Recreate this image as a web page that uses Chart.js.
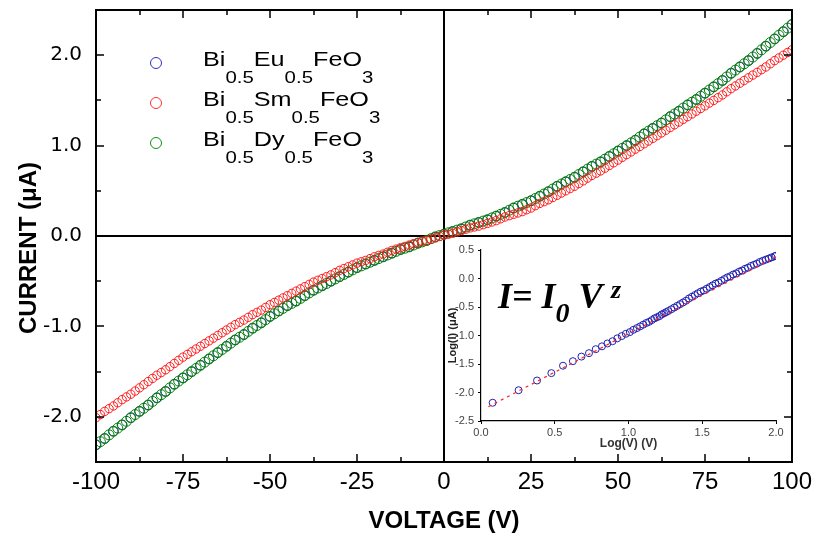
<!DOCTYPE html>
<html>
<head>
<meta charset="utf-8">
<title>I-V curves</title>
<script src="https://cdn.jsdelivr.net/npm/chart.js@4.4.1/dist/chart.umd.min.js"></script>
<style>
  html, body { margin: 0; padding: 0; background: #fff; }
  #wrap { position: relative; width: 816px; height: 539px; overflow: hidden; }
  #main { position: absolute; left: 0; top: 0; }
  #inset { position: absolute; left: 446px; top: 238px; }
  .legend-row { position: absolute; left: 0; width: 400px; height: 20px; line-height: 20px; }
  .legend-row .dot { position: absolute; left: 150px; top: 8px; width: 10px; height: 10px; border: 1px solid; border-radius: 50%; }
  .legend-row .txt {
    position: absolute; left: 203px; top: 0; white-space: nowrap;
    font-family: "Liberation Sans", Arial, sans-serif; font-size: 21px; color: #000;
    transform: scaleX(1.2); transform-origin: 0 0;
  }
  .legend-row sub { font-size: 17px; vertical-align: baseline; position: relative; top: 17px; }
  .formula {
    position: absolute; left: 498px; top: 278px; line-height: 36px; white-space: nowrap;
    font-family: "Liberation Serif", "Times New Roman", serif; font-weight: bold; font-style: italic;
    font-size: 36px; color: #000;
  }
  .formula sub { font-size: 28px; vertical-align: baseline; position: relative; top: 14px; }
  .formula sup { font-size: 26px; vertical-align: baseline; position: relative; top: -10px; }
</style>
</head>
<body>
<div id="wrap">
  <canvas id="main" width="816" height="539"></canvas>
  <canvas id="inset" width="344" height="222"></canvas>

  <div class="legend-row" style="top:49px"><span class="dot" style="border-color:#3030c8"></span><span class="txt">Bi<sub>0.5</sub>Eu<sub>0.5</sub>FeO<sub>3</sub></span></div>
  <div class="legend-row" style="top:89px"><span class="dot" style="border-color:#ff3030"></span><span class="txt">Bi<sub>0.5</sub>Sm<sub>0.5</sub>FeO<sub>3</sub></span></div>
  <div class="legend-row" style="top:129px"><span class="dot" style="border-color:#109010"></span><span class="txt">Bi<sub>0.5</sub>Dy<sub>0.5</sub>FeO<sub>3</sub></span></div>

  <div class="formula">I= I<sub>0</sub> V <sup>z</sup></div>
</div>

<script>
// sweep voltage (V), 1.25 V steps
const voltage = [
  -100, -98.75, -97.5, -96.25, -95, -93.75, -92.5, -91.25,
  -90, -88.75, -87.5, -86.25, -85, -83.75, -82.5, -81.25,
  -80, -78.75, -77.5, -76.25, -75, -73.75, -72.5, -71.25,
  -70, -68.75, -67.5, -66.25, -65, -63.75, -62.5, -61.25,
  -60, -58.75, -57.5, -56.25, -55, -53.75, -52.5, -51.25,
  -50, -48.75, -47.5, -46.25, -45, -43.75, -42.5, -41.25,
  -40, -38.75, -37.5, -36.25, -35, -33.75, -32.5, -31.25,
  -30, -28.75, -27.5, -26.25, -25, -23.75, -22.5, -21.25,
  -20, -18.75, -17.5, -16.25, -15, -13.75, -12.5, -11.25,
  -10, -8.75, -7.5, -6.25, -5, -3.75, -2.5, -1.25,
  0, 1.25, 2.5, 3.75, 5, 6.25, 7.5, 8.75,
  10, 11.25, 12.5, 13.75, 15, 16.25, 17.5, 18.75,
  20, 21.25, 22.5, 23.75, 25, 26.25, 27.5, 28.75,
  30, 31.25, 32.5, 33.75, 35, 36.25, 37.5, 38.75,
  40, 41.25, 42.5, 43.75, 45, 46.25, 47.5, 48.75,
  50, 51.25, 52.5, 53.75, 55, 56.25, 57.5, 58.75,
  60, 61.25, 62.5, 63.75, 65, 66.25, 67.5, 68.75,
  70, 71.25, 72.5, 73.75, 75, 76.25, 77.5, 78.75,
  80, 81.25, 82.5, 83.75, 85, 86.25, 87.5, 88.75,
  90, 91.25, 92.5, 93.75, 95, 96.25, 97.5, 98.75,
  100
];

// current (uA), Sm-doped film
const smCurrent = [
  -2.01, -1.975, -1.94, -1.91, -1.88, -1.845, -1.81, -1.78,
  -1.75, -1.715, -1.68, -1.645, -1.61, -1.575, -1.54, -1.51,
  -1.48, -1.445, -1.41, -1.375, -1.34, -1.31, -1.28, -1.25,
  -1.22, -1.19, -1.16, -1.13, -1.10, -1.07, -1.04, -1.01,
  -0.98, -0.955, -0.93, -0.90, -0.87, -0.845, -0.82, -0.79,
  -0.76, -0.735, -0.71, -0.685, -0.66, -0.635, -0.61, -0.585,
  -0.56, -0.535, -0.51, -0.49, -0.47, -0.45, -0.43, -0.405,
  -0.38, -0.36, -0.34, -0.32, -0.30, -0.285, -0.27, -0.25,
  -0.23, -0.215, -0.20, -0.18, -0.16, -0.145, -0.13, -0.115,
  -0.10, -0.085, -0.07, -0.06, -0.05, -0.035, -0.02, -0.005,
  0.01, 0.02, 0.03, 0.045, 0.06, 0.075, 0.09, 0.10,
  0.11, 0.125, 0.14, 0.155, 0.17, 0.19, 0.21, 0.225,
  0.24, 0.255, 0.27, 0.29, 0.31, 0.335, 0.36, 0.38,
  0.40, 0.425, 0.45, 0.475, 0.50, 0.525, 0.55, 0.58,
  0.61, 0.64, 0.67, 0.695, 0.72, 0.75, 0.78, 0.81,
  0.84, 0.87, 0.90, 0.93, 0.96, 0.99, 1.02, 1.05,
  1.08, 1.11, 1.14, 1.17, 1.20, 1.23, 1.26, 1.29,
  1.32, 1.35, 1.38, 1.41, 1.44, 1.47, 1.50, 1.53,
  1.56, 1.595, 1.63, 1.66, 1.69, 1.72, 1.75, 1.78,
  1.81, 1.84, 1.87, 1.905, 1.94, 1.97, 2.00, 2.03,
  2.06
];

// current (uA), Dy-doped film
const dyCurrent = [
  -2.31, -2.275, -2.24, -2.20, -2.16, -2.125, -2.09, -2.05,
  -2.01, -1.975, -1.94, -1.905, -1.87, -1.83, -1.79, -1.755,
  -1.72, -1.68, -1.64, -1.605, -1.57, -1.535, -1.50, -1.465,
  -1.43, -1.395, -1.36, -1.325, -1.29, -1.255, -1.22, -1.185,
  -1.15, -1.12, -1.09, -1.055, -1.02, -0.99, -0.96, -0.925,
  -0.89, -0.86, -0.83, -0.80, -0.77, -0.745, -0.72, -0.69,
  -0.66, -0.63, -0.60, -0.575, -0.55, -0.525, -0.50, -0.475,
  -0.45, -0.425, -0.40, -0.375, -0.35, -0.33, -0.31, -0.29,
  -0.27, -0.25, -0.23, -0.21, -0.19, -0.17, -0.15, -0.135,
  -0.12, -0.10, -0.08, -0.065, -0.05, -0.03, -0.01, 0.005,
  0.02, 0.035, 0.05, 0.065, 0.08, 0.10, 0.12, 0.135,
  0.15, 0.165, 0.18, 0.20, 0.22, 0.24, 0.26, 0.285,
  0.31, 0.33, 0.35, 0.37, 0.39, 0.415, 0.44, 0.465,
  0.49, 0.52, 0.55, 0.575, 0.60, 0.625, 0.65, 0.68,
  0.71, 0.74, 0.77, 0.795, 0.82, 0.85, 0.88, 0.91,
  0.94, 0.97, 1.00, 1.03, 1.06, 1.095, 1.13, 1.16,
  1.19, 1.22, 1.25, 1.285, 1.32, 1.35, 1.38, 1.415,
  1.45, 1.48, 1.51, 1.545, 1.58, 1.615, 1.65, 1.685,
  1.72, 1.76, 1.80, 1.835, 1.87, 1.905, 1.94, 1.98,
  2.02, 2.06, 2.10, 2.14, 2.18, 2.22, 2.26, 2.30,
  2.34
];

// Eu-doped film, 2.5 V steps (sits under the Dy curve)
const euVoltage = [
  -100, -97.5, -95, -92.5, -90, -87.5, -85, -82.5, -80, -77.5,
  -75, -72.5, -70, -67.5, -65, -62.5, -60, -57.5, -55, -52.5,
  -50, -47.5, -45, -42.5, -40, -37.5, -35, -32.5, -30, -27.5,
  -25, -22.5, -20, -17.5, -15, -12.5, -10, -7.5, -5, -2.5,
  0, 2.5, 5, 7.5, 10, 12.5, 15, 17.5, 20, 22.5,
  25, 27.5, 30, 32.5, 35, 37.5, 40, 42.5, 45, 47.5,
  50, 52.5, 55, 57.5, 60, 62.5, 65, 67.5, 70, 72.5,
  75, 77.5, 80, 82.5, 85, 87.5, 90, 92.5, 95, 97.5,
  100
];
const euCurrent = [
  -2.31, -2.24, -2.16, -2.09, -2.01, -1.94, -1.87, -1.79, -1.72, -1.64,
  -1.57, -1.50, -1.43, -1.36, -1.29, -1.22, -1.15, -1.09, -1.02, -0.96,
  -0.89, -0.83, -0.77, -0.72, -0.66, -0.60, -0.55, -0.50, -0.45, -0.40,
  -0.35, -0.31, -0.27, -0.23, -0.19, -0.15, -0.12, -0.08, -0.05, -0.01,
  0.02, 0.05, 0.08, 0.12, 0.15, 0.18, 0.22, 0.26, 0.31, 0.35,
  0.39, 0.44, 0.49, 0.55, 0.60, 0.65, 0.71, 0.77, 0.82, 0.88,
  0.94, 1.00, 1.06, 1.13, 1.19, 1.25, 1.32, 1.38, 1.45, 1.51,
  1.58, 1.65, 1.72, 1.80, 1.87, 1.94, 2.02, 2.10, 2.18, 2.26,
  2.34
];

const xTicks = [-100, -75, -50, -25, 0, 25, 50, 75, 100];
const yTicks = [-2, -1, 0, 1, 2];

// log-log data for the power-law inset (positive branch)
const logV = [
  0.079, 0.255, 0.380, 0.477, 0.556, 0.623, 0.681, 0.732, 0.778, 0.820,
  0.857, 0.892, 0.924, 0.954, 0.982, 1.009, 1.033, 1.057, 1.079, 1.100,
  1.121, 1.140, 1.158, 1.176, 1.193, 1.210, 1.225, 1.241, 1.255, 1.270,
  1.29, 1.31, 1.33, 1.35, 1.37, 1.39, 1.41, 1.43, 1.45, 1.47,
  1.49, 1.51, 1.53, 1.55, 1.57, 1.59, 1.61, 1.63, 1.65, 1.67,
  1.69, 1.71, 1.73, 1.75, 1.77, 1.79, 1.81, 1.83, 1.85, 1.87,
  1.89, 1.91, 1.93, 1.95, 1.97, 1.99, 2.00
];
const logI = [
  -2.18, -1.96, -1.79, -1.66, -1.53, -1.45, -1.37, -1.31, -1.24, -1.19,
  -1.14, -1.10, -1.05, -1.01, -0.97, -0.94, -0.90, -0.87, -0.84, -0.81,
  -0.78, -0.76, -0.73, -0.70, -0.68, -0.66, -0.63, -0.61, -0.59, -0.57,
  -0.54, -0.51, -0.48, -0.45, -0.42, -0.39, -0.35, -0.32, -0.29, -0.26,
  -0.23, -0.21, -0.18, -0.15, -0.12, -0.09, -0.07, -0.04, -0.01, 0.02,
  0.04, 0.07, 0.09, 0.12, 0.14, 0.17, 0.19, 0.22, 0.24, 0.26,
  0.29, 0.31, 0.33, 0.35, 0.37, 0.39, 0.40
];
// straight-line fit end points
const fitLogV = [0.05, 2.0];
const fitLogI = [-2.25, 0.38];

const insetXTicks = [0, 0.5, 1.0, 1.5, 2.0];
const insetYTicks = [-2.5, -2.0, -1.5, -1.0, -0.5, 0, 0.5];

const toPoints = (xs, ys) => xs.map((x, i) => ({ x: x, y: ys[i] }));

const sansFont = '"Liberation Sans", Arial, sans-serif';

// box with inward ticks on every side, plus the zero cross lines
const frameTicks = {
  id: "frameTicks",
  beforeDatasetsDraw(chart) {
    const { ctx, chartArea: a, scales } = chart;
    const x0 = Math.round(scales.x.getPixelForValue(0));
    const y0 = Math.round(scales.y.getPixelForValue(0));
    ctx.save();
    ctx.strokeStyle = "#000";
    ctx.lineWidth = 2;
    ctx.beginPath();
    ctx.moveTo(x0, a.top);
    ctx.lineTo(x0, a.bottom);
    ctx.moveTo(a.left, y0);
    ctx.lineTo(a.right, y0);
    ctx.stroke();
    ctx.restore();
  },
  afterDatasetsDraw(chart) {
    const { ctx, chartArea: a, scales } = chart;
    const xs = scales.x, ys = scales.y;
    ctx.save();
    ctx.strokeStyle = "#000";
    ctx.lineWidth = 2;
    ctx.strokeRect(a.left, a.top, a.right - a.left, a.bottom - a.top);

    const major = 8, minor = 5;
    ctx.beginPath();
    const vTick = (v, len) => {
      const px = Math.round(xs.getPixelForValue(v));
      ctx.moveTo(px, a.bottom); ctx.lineTo(px, a.bottom - len);
      ctx.moveTo(px, a.top); ctx.lineTo(px, a.top + len);
    };
    const hTick = (v, len) => {
      const py = Math.round(ys.getPixelForValue(v));
      ctx.moveTo(a.left, py); ctx.lineTo(a.left + len, py);
      ctx.moveTo(a.right, py); ctx.lineTo(a.right - len, py);
    };
    xTicks.forEach((v, i) => {
      if (i > 0 && i < xTicks.length - 1) vTick(v, major);
      if (i < xTicks.length - 1) vTick((v + xTicks[i + 1]) / 2, minor);
    });
    yTicks.forEach((v, i) => {
      hTick(v, major);
      if (i < yTicks.length - 1) hTick((v + yTicks[i + 1]) / 2, minor);
    });
    ctx.lineWidth = 1.5;
    ctx.stroke();
    ctx.restore();
  }
};

const hollow = "rgba(0,0,0,0)";

new Chart(document.getElementById("main"), {
  type: "scatter",
  data: {
    datasets: [
      {
        label: "Bi0.5Eu0.5FeO3",
        data: toPoints(euVoltage, euCurrent),
        borderColor: "#2a2ab4",
        backgroundColor: hollow,
        pointRadius: 4.6,
        pointBorderWidth: 1,
        order: 3
      },
      {
        label: "Bi0.5Sm0.5FeO3",
        data: toPoints(voltage, smCurrent),
        borderColor: "#ff1a1a",
        backgroundColor: hollow,
        pointRadius: 4.2,
        pointBorderWidth: 1,
        order: 1
      },
      {
        label: "Bi0.5Dy0.5FeO3",
        data: toPoints(voltage, dyCurrent),
        borderColor: "#008000",
        backgroundColor: hollow,
        pointRadius: 5,
        pointBorderWidth: 1,
        order: 2
      }
    ]
  },
  options: {
    responsive: false,
    animation: false,
    layout: { padding: { top: 10, right: 24, left: 0, bottom: 0 } },
    plugins: { legend: { display: false }, tooltip: { enabled: false } },
    scales: {
      x: {
        type: "linear",
        min: -100,
        max: 100,
        afterBuildTicks: (s) => { s.ticks = xTicks.map((v) => ({ value: v })); },
        afterFit: (s) => { s.height = 77; s.paddingLeft = 0; s.paddingRight = 0; },
        grid: { display: false, drawTicks: false },
        border: { display: false },
        ticks: { color: "#000", padding: 6, maxRotation: 0, font: { family: sansFont, size: 24 } },
        title: {
          display: true,
          text: "VOLTAGE (V)",
          color: "#000",
          font: { family: sansFont, size: 24, weight: "bold" },
          padding: { top: 0, bottom: 3 }
        }
      },
      y: {
        min: -2.5,
        max: 2.5,
        afterBuildTicks: (s) => { s.ticks = yTicks.map((v) => ({ value: v })); },
        afterFit: (s) => { s.width = 96; s.paddingTop = 0; s.paddingBottom = 0; },
        grid: { display: false, drawTicks: false },
        border: { display: false },
        ticks: {
          color: "#000",
          padding: 14,
          font: { family: '"DejaVu Sans", sans-serif', size: 20 },
          callback: (v) => Number(v).toFixed(1)
        },
        title: {
          display: true,
          // trailing em space nudges the rotated title a little lower
          text: "CURRENT (μA)\u2003",
          color: "#000",
          font: { family: sansFont, size: 24, weight: "bold" },
          padding: { top: 15, bottom: 0 }
        }
      }
    }
  },
  plugins: [frameTicks]
});

// inset: log I vs log V with the linear fit
new Chart(document.getElementById("inset"), {
  type: "scatter",
  data: {
    datasets: [
      {
        type: "line",
        label: "fit",
        data: toPoints(fitLogV, fitLogI),
        borderColor: "#ff2020",
        borderWidth: 1.2,
        borderDash: [3, 4],
        pointRadius: 0,
        fill: false,
        order: 0
      },
      {
        label: "Bi0.5Eu0.5FeO3",
        data: toPoints(logV, logI),
        borderColor: "#2020b0",
        backgroundColor: hollow,
        pointRadius: 3.5,
        pointBorderWidth: 1,
        order: 1
      }
    ]
  },
  options: {
    responsive: false,
    animation: false,
    layout: { padding: { top: 12, right: 14, left: 0, bottom: 0 } },
    plugins: { legend: { display: false }, tooltip: { enabled: false } },
    scales: {
      x: {
        type: "linear",
        min: 0,
        max: 2,
        afterBuildTicks: (s) => { s.ticks = insetXTicks.map((v) => ({ value: v })); },
        afterFit: (s) => { s.height = 39; },
        grid: { display: true, drawOnChartArea: false, drawTicks: true, tickLength: 3, color: "#000" },
        border: { display: true, color: "#000", width: 1.2 },
        ticks: {
          color: "#444",
          padding: 2,
          maxRotation: 0,
          font: { family: sansFont, size: 11 },
          callback: (v) => Number(v).toFixed(1)
        },
        title: {
          display: true,
          text: "Log(V) (V)",
          color: "#333",
          font: { family: sansFont, size: 12, weight: "bold" },
          padding: { top: 0, bottom: 9 }
        }
      },
      y: {
        min: -2.5,
        max: 0.5,
        afterBuildTicks: (s) => { s.ticks = insetYTicks.map((v) => ({ value: v })); },
        afterFit: (s) => { s.width = 35; },
        grid: { display: true, drawOnChartArea: false, drawTicks: true, tickLength: 3, color: "#000" },
        border: { display: true, color: "#000", width: 1.2 },
        ticks: {
          color: "#444",
          padding: 4,
          font: { family: sansFont, size: 11 },
          callback: (v) => Number(v).toFixed(1)
        },
        title: {
          display: true,
          text: "Log(I) (μA)",
          color: "#222",
          font: { family: sansFont, size: 11, weight: "bold" },
          padding: { top: 0, bottom: 0 }
        }
      }
    }
  }
});
</script>
</body>
</html>
